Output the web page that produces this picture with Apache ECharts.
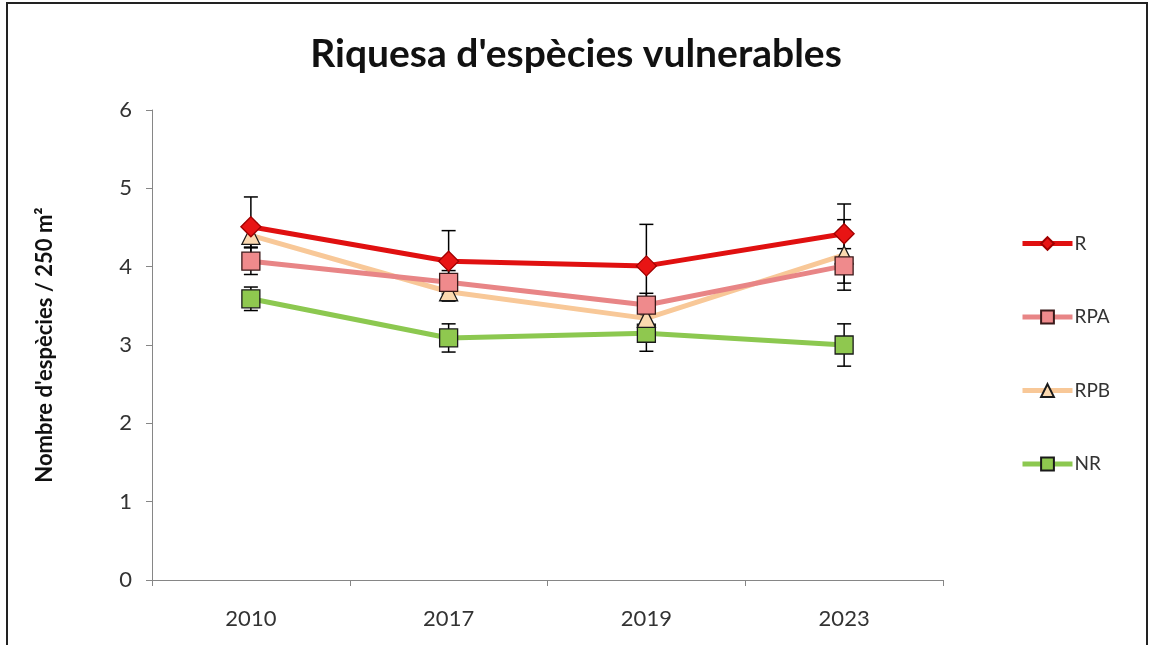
<!DOCTYPE html>
<html>
<head>
<meta charset="utf-8">
<script src="https://cdn.jsdelivr.net/npm/echarts@6/dist/echarts.min.js"></script>
<style>html,body{margin:0;padding:0;background:#fff}#c{width:1152px;height:645px}</style>
</head>
<body>
<div id="c"></div>
<script>
const categories = ['2010', '2017', '2019', '2023'];
const yTicks = [0, 1, 2, 3, 4, 5, 6];
const R = [4.51, 4.07, 4.01, 4.42];
const R_err = [0.38, 0.39, 0.53, 0.38];
const RPA = [4.07, 3.80, 3.51, 4.01];
const RPA_err = [0.17, 0.15, 0.15, 0.22];
const RPB = [4.40, 3.68, 3.34, 4.15];
const RPB_err = [0.15, 0.12, 0.12, 0.45];
const NR = [3.59, 3.09, 3.15, 3.00];
const NR_err = [0.15, 0.18, 0.23, 0.27];

const FONT = 'Lato';
const chart = echarts.init(document.getElementById('c'));

function errData(vals, errs) {
  return vals.map((v, i) => [i, v - errs[i], v + errs[i]]);
}
function errSeries(name, vals, errs) {
  return {
    type: 'custom',
    name: name + '_err',
    z: 1,
    silent: true,
    renderItem: function (params, api) {
      const x = api.value(0);
      const lo = api.coord([x, api.value(1)]);
      const hi = api.coord([x, api.value(2)]);
      const w = 7;
      const st = { stroke: '#000', lineWidth: 1.5 };
      return {
        type: 'group',
        children: [
          { type: 'line', shape: { x1: lo[0], y1: lo[1], x2: hi[0], y2: hi[1] }, style: st },
          { type: 'line', shape: { x1: lo[0] - w, y1: lo[1], x2: lo[0] + w, y2: lo[1] }, style: st },
          { type: 'line', shape: { x1: hi[0] - w, y1: hi[1], x2: hi[0] + w, y2: hi[1] }, style: st }
        ]
      };
    },
    encode: { x: 0, y: [1, 2] },
    data: errData(vals, errs)
  };
}
function lineSeries(name, vals, color, symbol, size, fill, border, z) {
  return {
    type: 'line',
    name: name,
    data: vals,
    z: z,
    symbol: symbol,
    symbolSize: size,
    lineStyle: { color: color, width: 5 },
    itemStyle: { color: fill, borderColor: border, borderWidth: 1.3 },
    emphasis: { disabled: true }
  };
}

const option = {
  animation: false,
  backgroundColor: '#fff',
  title: {
    text: "Riquesa d'espècies vulnerables",
    left: 'center',
    top: 30,
    textStyle: { fontFamily: FONT, fontSize: 39, fontWeight: 'bold', color: '#111' }
  },
  legend: {
    orient: 'vertical',
    left: 1015,
    top: 229,
    itemWidth: 50,
    itemHeight: 16,
    itemGap: 54.5,
    data: ['R', 'RPA', 'RPB', 'NR'],
    lineStyle: { width: 5 },
    textStyle: { fontFamily: FONT, fontSize: 19, color: '#333', padding: [0, 0, 0, -3] }
  },
  grid: { left: 152, right: 209, top: 110, bottom: 65, containLabel: false },
  xAxis: {
    type: 'category',
    data: categories,
    boundaryGap: true,
    axisLine: { lineStyle: { color: '#868686', width: 1 } },
    axisTick: { show: true, length: 6, lineStyle: { color: '#868686' } },
    axisLabel: { fontFamily: FONT, fontSize: 22, color: '#333', margin: 28 }
  },
  yAxis: {
    type: 'value',
    min: yTicks[0],
    max: yTicks[yTicks.length - 1],
    interval: 1,
    name: 'Nombre d\'espècies / 250 m²',
    nameLocation: 'middle',
    nameGap: 96,
    nameTextStyle: { fontFamily: FONT, fontSize: 22, fontWeight: 'bold', color: '#111' },
    splitLine: { show: false },
    axisLine: { show: true, lineStyle: { color: '#868686', width: 1 } },
    axisTick: { show: true, length: 6, lineStyle: { color: '#868686' } },
    axisLabel: { fontFamily: FONT, fontSize: 22, color: '#333', margin: 20 }
  },
  series: [
    errSeries('R', R, R_err),
    errSeries('RPA', RPA, RPA_err),
    errSeries('RPB', RPB, RPB_err),
    errSeries('NR', NR, NR_err),
    lineSeries('NR', NR, '#8cc850', 'rect', 18, '#8fc84f', '#1a1a1a', 3),
    lineSeries('RPB', RPB, '#f8c898', 'triangle', 18, '#fbd9b0', '#1a1a1a', 4),
    lineSeries('RPA', RPA, '#e88586', 'rect', 18, '#ef8a8c', '#3a1a1a', 5),
    lineSeries('R', R, '#e01010', 'diamond', 20, '#e81414', '#a00000', 6)
  ],
  graphic: [
    { type: 'rect', shape: { x: 7, y: 3, width: 1140, height: 700 }, style: { fill: 'none', stroke: '#222', lineWidth: 2 }, silent: true }
  ]
};
chart.setOption(option);
</script>
</body>
</html>
